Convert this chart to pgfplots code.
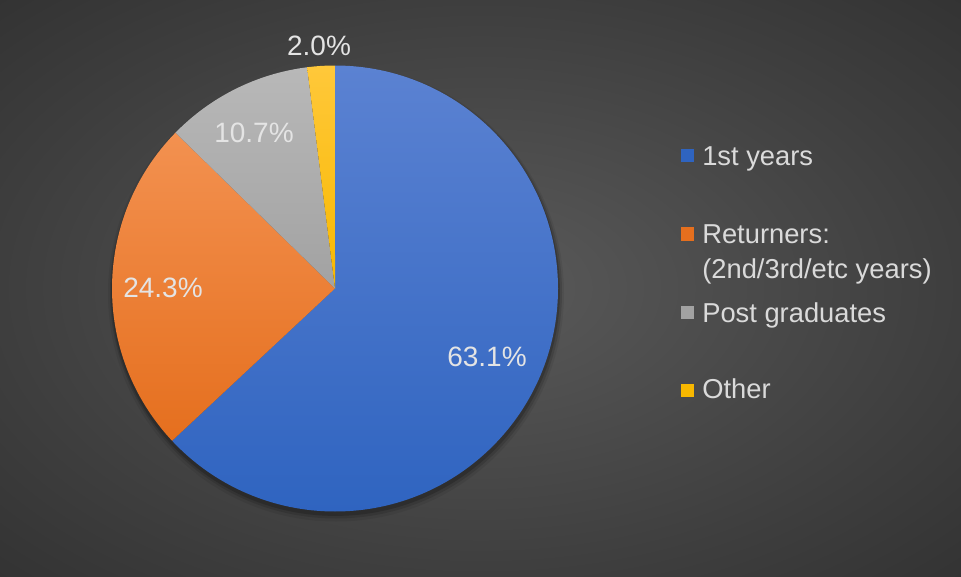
\documentclass[border=0pt]{standalone}
\usepackage{pgfplots}
\pgfplotsset{compat=1.18}
\usepackage{pgfplotstable}
\usepackage{fontspec}
\setmainfont{Liberation Sans}
\definecolor{bgin}{HTML}{5A5A5A}
\definecolor{bgmid}{HTML}{3E3E3E}
\definecolor{bgout}{HTML}{242424}
\pgfdeclareradialshading{bgrad}{\pgfpoint{0bp}{0bp}}{color(0bp)=(bgin); color(25bp)=(bgmid); color(50bp)=(bgout); color(80bp)=(bgout)}
\definecolor{blueT}{HTML}{5B82D2}
\definecolor{blueB}{HTML}{2F64C0}
\definecolor{orT}{HTML}{F39150}
\definecolor{orB}{HTML}{E56F1E}
\definecolor{grT}{HTML}{B8B8B8}
\definecolor{grB}{HTML}{A2A2A2}
\definecolor{goT}{HTML}{FFC83A}
\definecolor{goB}{HTML}{F8B800}
\definecolor{txt}{HTML}{DADADA}
\definecolor{lbl}{HTML}{E4E4E4}
\pgfplotstableread{
id value
first 63.1
returners 24.3
post 10.7
other 2.0
}\piedata
\begin{document}
\begin{tikzpicture}
\pgfplotstablegetelem{0}{value}\of\piedata \let\va\pgfplotsretval
\pgfplotstablegetelem{1}{value}\of\piedata \let\vb\pgfplotsretval
\pgfplotstablegetelem{2}{value}\of\piedata \let\vc\pgfplotsretval
\pgfplotstablegetelem{3}{value}\of\piedata \let\vd\pgfplotsretval
\pgfmathsetmacro\tot{\va+\vb+\vc+\vd}
\pgfmathsetmacro\aA{90-360*(\va/\tot)}
\pgfmathsetmacro\aB{\aA-360*(\vb/\tot)}
\pgfmathsetmacro\aC{\aB-360*(\vc/\tot)}
\pgfmathsetmacro\aD{\aC-360*(\vd/\tot)}
\def\R{167.25pt}
\begin{axis}[
  width=720.75pt, height=432pt, scale only axis,
  xmin=0, xmax=961, ymin=0, ymax=576,
  hide axis, clip=false,
]
% background
\shade[shading=bgrad] (axis cs:0,0) rectangle (axis cs:961,576);
% soft shadow, mostly below the pie
\fill[black, opacity=0.07] (axis cs:336,282.5) circle[radius=171pt];
\fill[black, opacity=0.12] (axis cs:336,283.5) circle[radius=169.5pt];
\fill[black, opacity=0.18] (axis cs:335.5,284.5) circle[radius=168.3pt];
% slices
\shade[top color=blueT, bottom color=blueB] (axis cs:335,287.5) -- ++(90:\R) arc[start angle=90, end angle=\aA, radius=\R] -- cycle;
\shade[top color=orT, bottom color=orB] (axis cs:335,287.5) -- ++(\aA:\R) arc[start angle=\aA, end angle=\aB, radius=\R] -- cycle;
\shade[top color=grT, bottom color=grB] (axis cs:335,287.5) -- ++(\aB:\R) arc[start angle=\aB, end angle=\aC, radius=\R] -- cycle;
\shade[top color=goT, bottom color=goB] (axis cs:335,287.5) -- ++(\aC:\R) arc[start angle=\aC, end angle=\aD, radius=\R] -- cycle;
% data labels
\begin{scope}[font=\fontsize{21pt}{25pt}\selectfont, text=lbl]
\node[anchor=base] at (axis cs:487,210) {63.1\%};
\node[anchor=base] at (axis cs:163,279) {24.3\%};
\node[anchor=base] at (axis cs:254,433) {10.7\%};
\node[anchor=base] at (axis cs:319,520.5) {2.0\%};
\end{scope}
% legend
\begin{scope}[font=\fontsize{20.5pt}{26pt}\selectfont, text=txt]
\fill[blueB] (axis cs:681,426.5) rectangle (axis cs:694,413.5);
\node[anchor=base west, inner sep=0pt] at (axis cs:702,410) {1st years};
\fill[orB] (axis cs:681,348.5) rectangle (axis cs:694,335.5);
\node[anchor=base west, inner sep=0pt] at (axis cs:702,333) {Returners:};
\node[anchor=base west, inner sep=0pt] at (axis cs:702,298) {(2nd/3rd/etc years)};
\fill[grB] (axis cs:681,270.5) rectangle (axis cs:694,257.5);
\node[anchor=base west, inner sep=0pt] at (axis cs:702,254) {Post graduates};
\fill[goB] (axis cs:681,192.5) rectangle (axis cs:694,179.5);
\node[anchor=base west, inner sep=0pt] at (axis cs:702,178) {Other};
\end{scope}
\end{axis}
\end{tikzpicture}
\end{document}
